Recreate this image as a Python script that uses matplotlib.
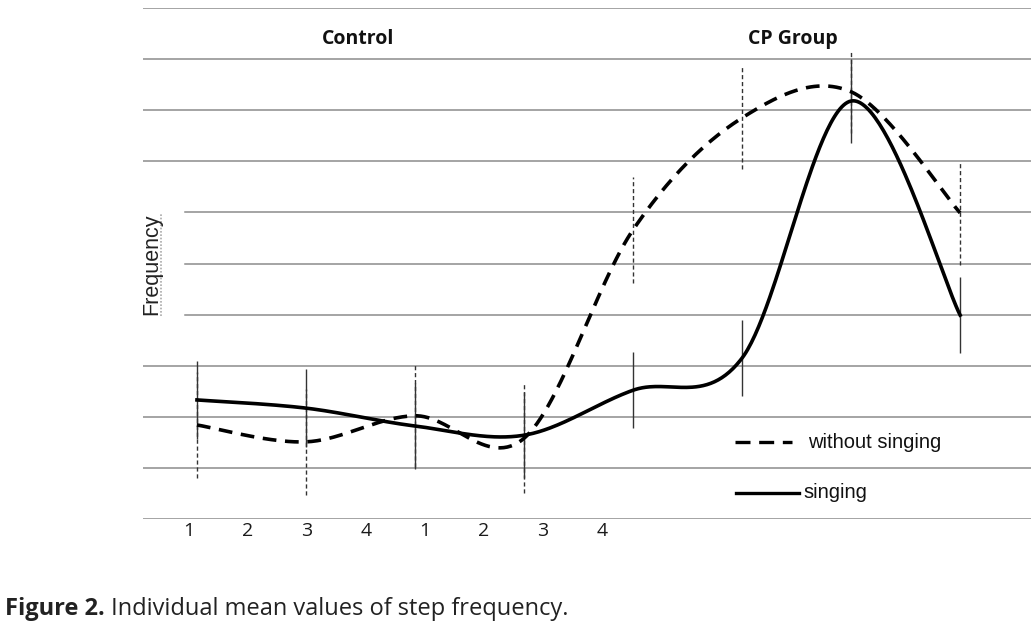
import numpy as np
import matplotlib
matplotlib.use("Agg")
import matplotlib.pyplot as plt

# ---- data ----
sessions = [0, 1, 2, 3, 4, 5, 6, 7]
without_singing = [1.84, 1.51, 2.02, 1.58, 5.66, 7.85, 8.36, 5.99]
without_sd = [1.04, 1.04, 1.00, 1.07, 1.04, 1.00, 0.80, 1.02]
singing = [2.33, 2.17, 1.82, 1.64, 2.52, 3.15, 8.18, 3.99]
singing_sd = [0.76, 0.76, 0.84, 0.84, 0.74, 0.74, 0.82, 0.74]
tick_labels = ["1", "2", "3", "4", "1", "2", "3", "4"]
group_labels = ["Control", "CP Group"]
legend_labels = ["without singing", "singing"]
ylabel = "Frequency"
caption_bold = "Figure 2."
caption_rest = " Individual mean values of step frequency."


def smooth(xs, ys, n=60):
    """Excel-like smoothed line: cubic Bezier through points."""
    xs = np.asarray(xs, float)
    ys = np.asarray(ys, float)
    P = np.column_stack([xs, ys])
    ext = np.vstack([P[0], P, P[-1]])
    out = []
    for i in range(len(P) - 1):
        p0, p3 = ext[i + 1], ext[i + 2]
        c1 = p0 + (ext[i + 2] - ext[i]) / 6.0
        c2 = p3 - (ext[i + 3] - ext[i + 1]) / 6.0
        t = np.linspace(0, 1, n)[:, None]
        seg = ((1 - t) ** 3) * p0 + 3 * ((1 - t) ** 2) * t * c1 + 3 * (1 - t) * t ** 2 * c2 + t ** 3 * p3
        out.append(seg if i == 0 else seg[1:])
    seg = np.vstack(out)
    return seg[:, 0], seg[:, 1]


W, H = 1031, 630
fig = plt.figure(figsize=(W / 100, H / 100), dpi=100)
ax = fig.add_axes([143 / W, (H - 519) / H, (W - 143) / W, 511 / H])
ax.set_xlim(-0.495, 7.65)
ax.set_ylim(0, 10)
for s in ax.spines.values():
    s.set_visible(False)
ax.set_yticks([])
ax.set_xticks([])

# grid lines
grid_color = "#8c8c8c"
for v in range(0, 11):
    x0 = 0.047 if v in (4, 5, 6) else 0.0
    ax.axhline(v, xmin=x0, xmax=1, color=grid_color, lw=1.1, zorder=0)

# error bars (dashed series first, then solid series on top)
for x, y, e in zip(sessions, without_singing, without_sd):
    ax.vlines(x, y - e, y + e, colors="#333333", lw=1.0, linestyles=(0, (3, 2)), zorder=1)
for x, y, e in zip(sessions, singing, singing_sd):
    ax.vlines(x, y - e, y + e, colors="#333333", lw=1.0, zorder=2)

# smoothed lines
sx, sy = smooth(sessions, without_singing)
ax.plot(sx, sy, color="black", lw=2.6, dashes=(3.8, 2.4), solid_capstyle="butt", zorder=3)
sx, sy = smooth(sessions, singing)
ax.plot(sx, sy, color="black", lw=2.6, zorder=3)

# x tick labels
tick_font = dict(family=["Open Sans", "DejaVu Sans"], fontsize=14, color="#1a1a1a")
for i, lab in enumerate(tick_labels):
    px = 189 + i * 59.0
    fig.text(px / W, 1 - 531 / H, lab, ha="center", va="center", **tick_font)

# group labels
grp_font = dict(family=["Open Sans", "DejaVu Sans"], fontsize=14, fontweight="bold", color="#111111")
fig.text(358 / W, 1 - 39 / H, group_labels[0], ha="center", va="center", **grp_font)
fig.text(793 / W, 1 - 39 / H, group_labels[1], ha="center", va="center", **grp_font)

# y label
fig.text(152 / W, 1 - 264 / H, ylabel, rotation=90, ha="center", va="center",
         family=["Liberation Sans", "DejaVu Sans"], fontsize=15.5, color="#222222")
fig.add_artist(plt.Line2D([161 / W, 161 / W], [1 - 316 / H, 1 - 213 / H], color="#aaaaaa",
                          lw=1.2, linestyle=(0, (1, 1))))

# legend (manual, as in the reference)
fig.add_artist(plt.Line2D([735 / W, 792 / W], [1 - 442 / H, 1 - 442 / H], color="black",
                          lw=2.4, dashes=(4.5, 2.6)))
fig.text(808 / W, 1 - 442 / H, legend_labels[0], ha="left", va="center",
         family=["Liberation Sans", "DejaVu Sans"], fontsize=14.5, color="#111111")
fig.add_artist(plt.Line2D([736 / W, 799 / W], [1 - 493 / H, 1 - 493 / H], color="black", lw=2.4))
fig.text(803 / W, 1 - 493 / H, legend_labels[1], ha="left", va="center",
         family=["Liberation Sans", "DejaVu Sans"], fontsize=14.5, color="#111111")

# caption
cap_font = dict(family=["Open Sans", "DejaVu Sans"], fontsize=17, color="#222222")
t1 = fig.text(5 / W, 1 - 609 / H, caption_bold, ha="left", va="center", fontweight="bold", **cap_font)
fig.canvas.draw()
bb = t1.get_window_extent()
fig.text(bb.x1 / W, 1 - 609 / H, caption_rest, ha="left", va="center", **cap_font)

fig.savefig("out.png", dpi=100)
